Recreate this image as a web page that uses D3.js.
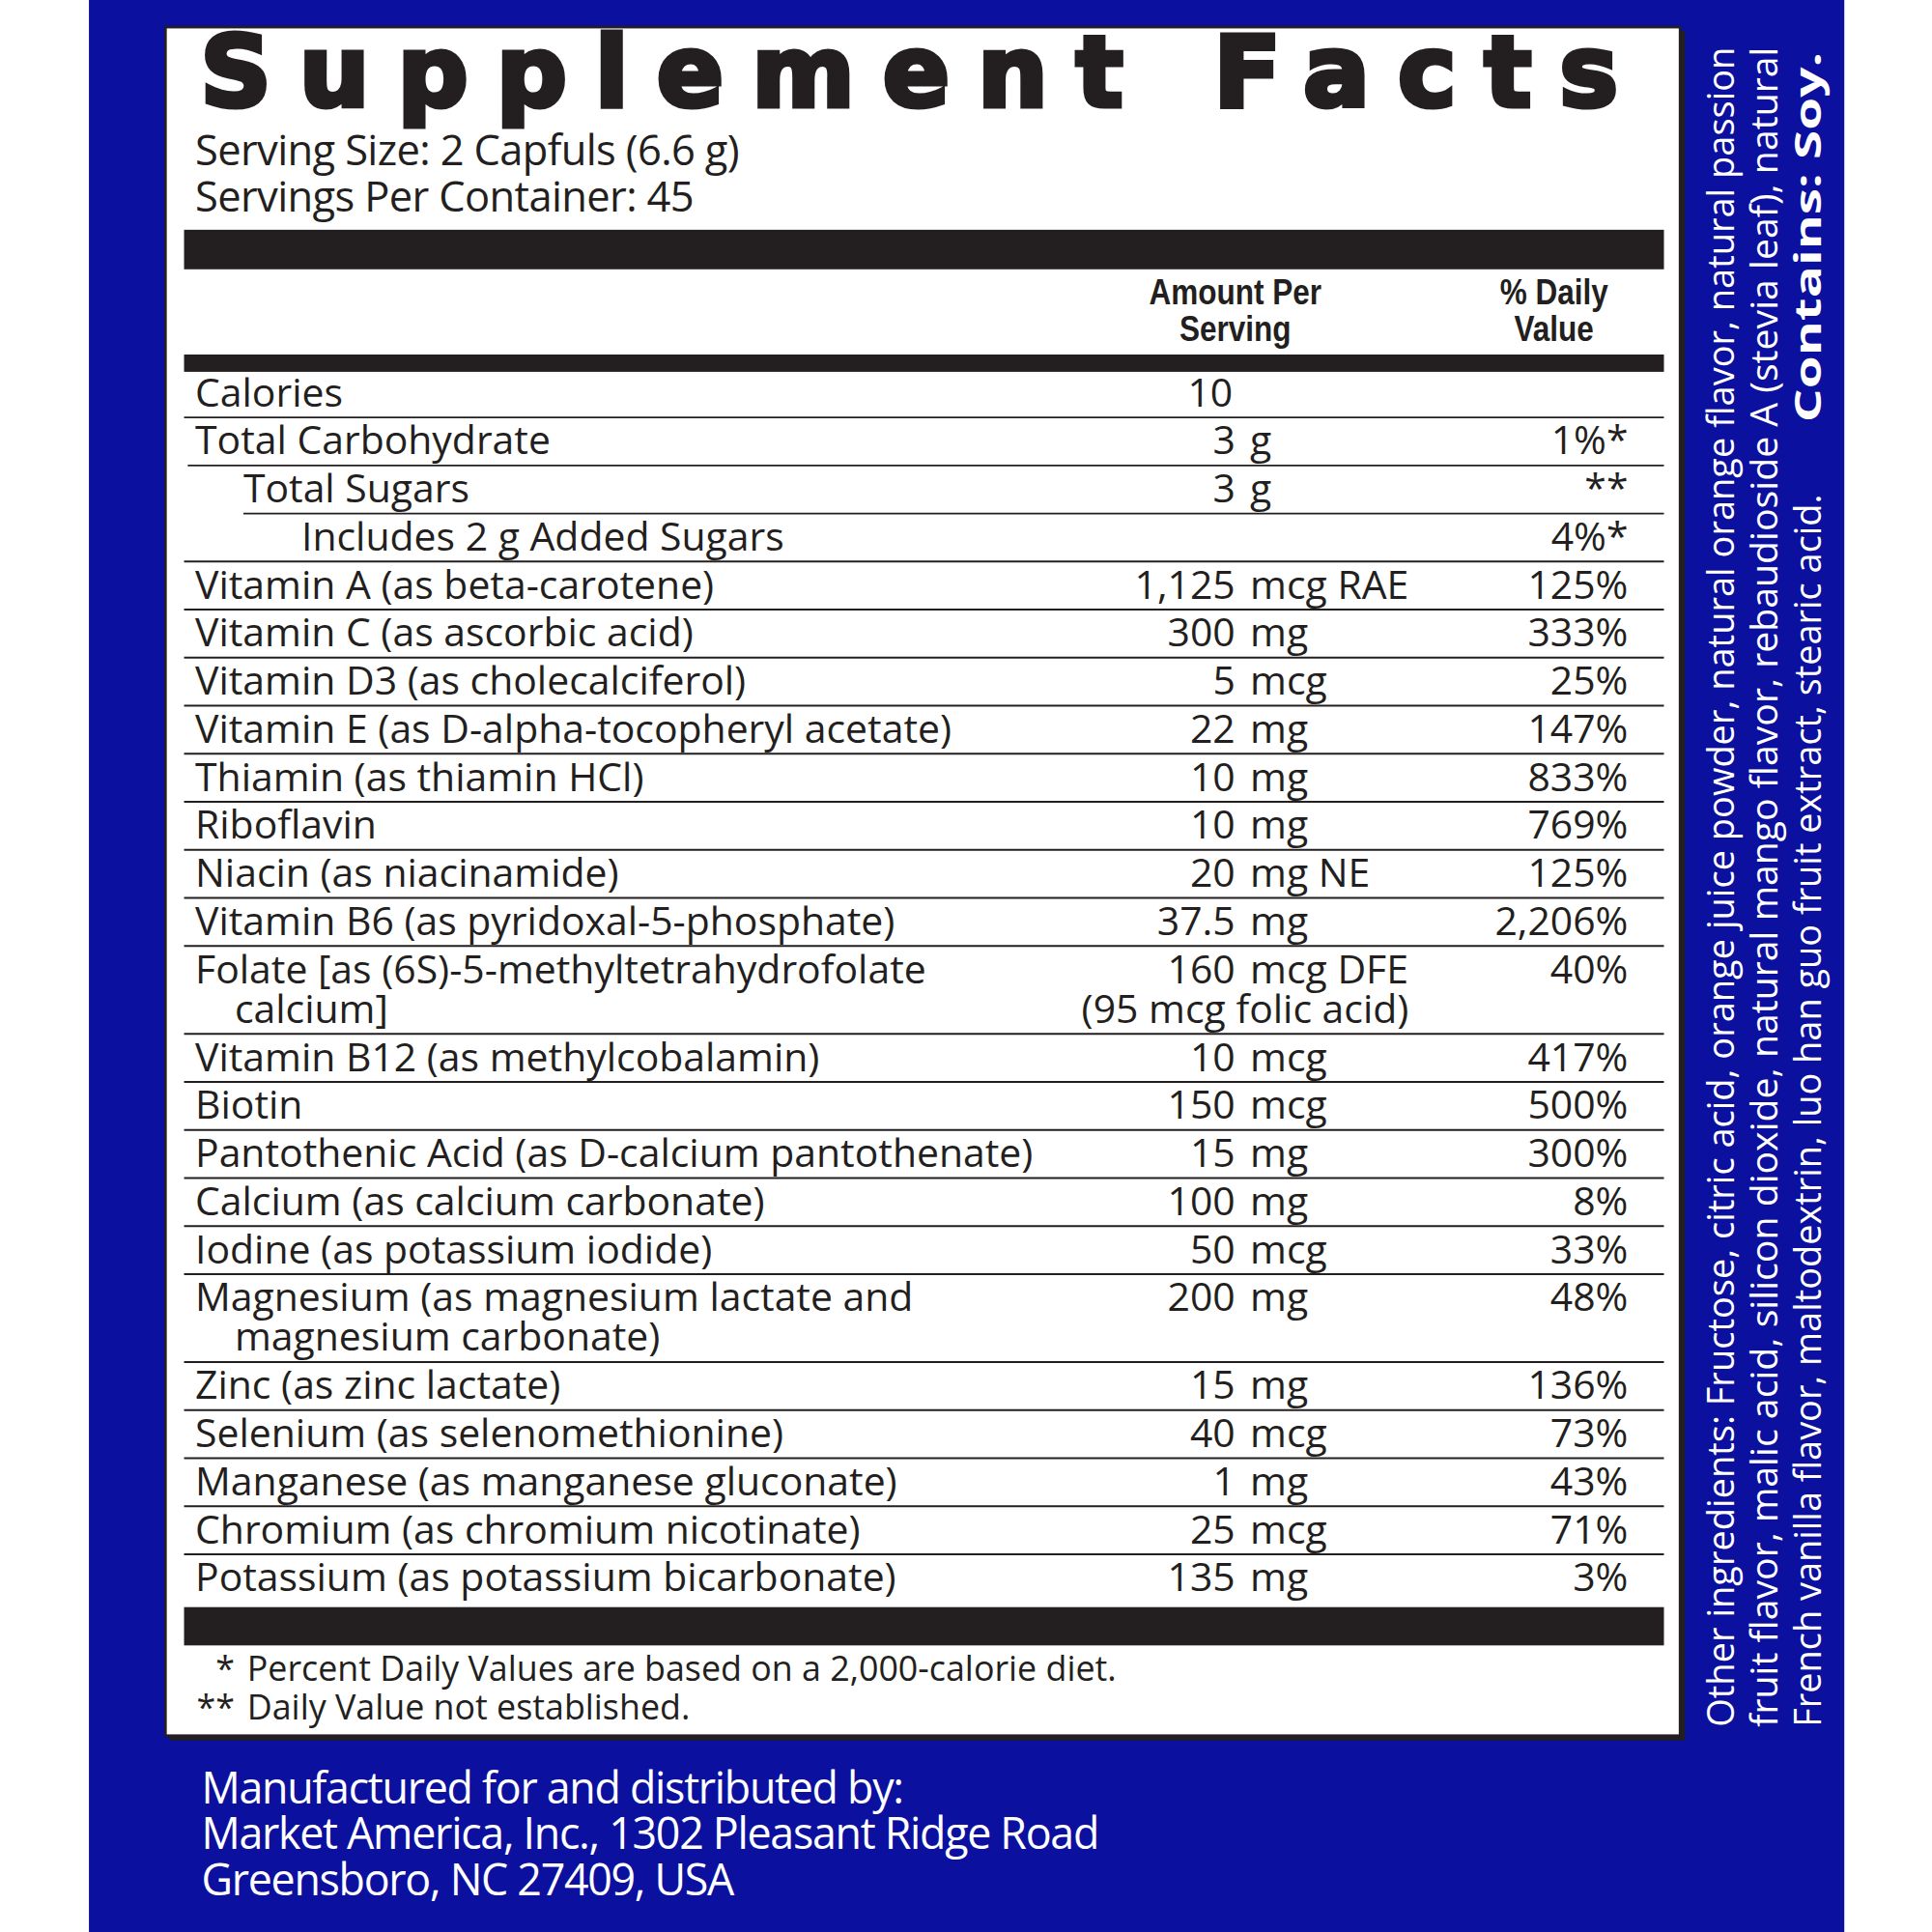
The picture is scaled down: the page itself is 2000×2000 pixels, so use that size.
<!DOCTYPE html><html><head><meta charset="utf-8">
<script src="https://cdn.jsdelivr.net/npm/d3@7"></script>
<style>body{margin:0;background:#fff}</style></head><body><svg id="c" width="2000" height="2000" viewBox="0 0 1564 1564"></svg>
<script>
const names=[["Calories"],["Total Carbohydrate"],["Total Sugars"],["Includes 2 g Added Sugars"],["Vitamin A (as beta-carotene)"],["Vitamin C (as ascorbic acid)"],["Vitamin D3 (as cholecalciferol)"],["Vitamin E (as D-alpha-tocopheryl acetate)"],["Thiamin (as thiamin HCl)"],["Riboflavin"],["Niacin (as niacinamide)"],["Vitamin B6 (as pyridoxal-5-phosphate)"],["Folate [as (6S)-5-methyltetrahydrofolate","calcium]"],["Vitamin B12 (as methylcobalamin)"],["Biotin"],["Pantothenic Acid (as D-calcium pantothenate)"],["Calcium (as calcium carbonate)"],["Iodine (as potassium iodide)"],["Magnesium (as magnesium lactate and","magnesium carbonate)"],["Zinc (as zinc lactate)"],["Selenium (as selenomethionine)"],["Manganese (as manganese gluconate)"],["Chromium (as chromium nicotinate)"],["Potassium (as potassium bicarbonate)"]];
const amounts=["10","3","3","","1,125","300","5","22","10","10","20","37.5","160","10","150","15","100","50","200","15","40","1","25","135"];
const units=["","g","g","","mcg RAE","mg","mcg","mg","mg","mg","mg NE","mg","mcg DFE","mcg","mcg","mg","mg","mcg","mg","mg","mcg","mg","mcg","mg"];
const dvs=["","1%*","**","4%*","125%","333%","25%","147%","833%","769%","125%","2,206%","40%","417%","500%","300%","8%","33%","48%","136%","73%","43%","71%","3%"];
const indents=[0,0,1,2,0,0,0,0,0,0,0,0,0,0,0,0,0,0,0,0,0,0,0,0];
const footnotes=[["*","Percent Daily Values are based on a 2,000-calorie diet."],["**","Daily Value not established."]];
const mfg=["Manufactured for and distributed by:","Market America, Inc., 1302 Pleasant Ridge Road","Greensboro, NC 27409, USA"];
const other=["Other ingredients: Fructose, citric acid, orange juice powder, natural orange flavor, natural passion","fruit flavor, malic acid, silicon dioxide, natural mango flavor, rebaudioside A (stevia leaf), natural","French vanilla flavor, maltodextrin, luo han guo fruit extract, stearic acid."];
const svg=d3.select("#c");
const F="'Open Sans', sans-serif";
const FS=32;
svg.append("rect").attr("x",72).attr("y",0).attr("width",1421).attr("height",1564).attr("fill","#0c109e");
svg.append("rect").attr("x",137).attr("y",25).attr("width",1227).attr("height",1384).attr("fill","#231f20");
svg.append("rect").attr("x",134).attr("y",22).attr("width",1226).attr("height",1383).attr("fill","#fff").attr("stroke","#231f20").attr("stroke-width",2);
svg.append("text").attr("x",162).attr("y",86).attr("font-family","'DejaVu Sans'").attr("font-weight","bold").attr("font-size",80).attr("textLength",1148).attr("lengthAdjust","spacing").attr("stroke","#231f20").attr("stroke-width",4).attr("fill","#231f20").text("Supplement Facts");
const g=svg.append("g").attr("fill","#231f20").attr("font-family",F);
g.append("text").attr("x",158).attr("y",134).attr("font-size",34).attr("letter-spacing",-0.5).text("Serving Size: 2 Capfuls (6.6 g)");
g.append("text").attr("x",158).attr("y",171).attr("font-size",34).attr("letter-spacing",-0.5).text("Servings Per Container: 45");
g.append("rect").attr("x",149).attr("y",186).attr("width",1198).attr("height",32);
g.append("rect").attr("x",149).attr("y",287).attr("width",1198).attr("height",14);
g.append("rect").attr("x",149).attr("y",1301).attr("width",1198).attr("height",31);
[["Amount Per","Serving",1000],["% Daily","Value",1258]].forEach(h=>{
 [h[0],h[1]].forEach((t,i)=>g.append("text").attr("x",h[2]).attr("y",246+i*30).attr("text-anchor","middle").attr("font-family","'Liberation Sans Narrow', 'Liberation Sans'").attr("font-stretch","condensed").attr("font-weight","bold").attr("font-size",29).attr("transform",`translate(${h[2]},0) scale(0.85,1) translate(${-h[2]},0)`).text(t));});
const y=d3.scaleLinear().domain([0,1]).range([0,38.9]);
const ix=[158,197,244];
let rowTop=299;
names.forEach((n,i)=>{
 const h=y(n.length===2?1.83:1);
 const base=rowTop+30;
 n.forEach((t,j)=>g.append("text").attr("x",j?190:ix[indents[i]]).attr("y",base+j*32).attr("font-size",FS).text(t));
 g.append("text").attr("x",i===0?998:1000).attr("y",base).attr("text-anchor","end").attr("font-size",FS).text(amounts[i]);
 if(units[i])g.append("text").attr("x",1012).attr("y",base).attr("font-size",FS).text(units[i]);
 if(i===12)g.append("text").attr("x",1008).attr("y",base+32).attr("text-anchor","middle").attr("font-size",FS).text("(95 mcg folic acid)");
 g.append("text").attr("x",1318).attr("y",base).attr("text-anchor","end").attr("font-size",FS).text(dvs[i]);
 rowTop+=h;
 if(i<names.length-1){const lx=i===2?197:(i===1?152:149);
 g.append("line").attr("x1",lx).attr("x2",1347).attr("y1",rowTop).attr("y2",rowTop).attr("stroke","#231f20").attr("stroke-width",1.5);}
});
footnotes.forEach((f,i)=>{g.append("text").attr("x",190).attr("y",1361+i*31).attr("text-anchor","end").attr("font-size",28).text(f[0]);
 g.append("text").attr("x",200).attr("y",1361+i*31).attr("font-size",28).text(f[1]);});
mfg.forEach((t,i)=>svg.append("text").attr("x",163).attr("y",1460+i*37).attr("fill","#fff").attr("font-family",F).attr("font-size",35).attr("letter-spacing",-1).text(t));
const v=svg.append("g").attr("fill","#fff").attr("font-family",F).attr("font-size",30);
other.forEach((t,i)=>{const x=1404+i*35;
 v.append("text").attr("transform",`translate(${x},1398) rotate(-90)`).attr("textLength",i===2?998:1360).attr("lengthAdjust","spacingAndGlyphs").text(t);});
v.append("text").attr("transform",`translate(1474,342) rotate(-90)`).attr("font-weight","bold").attr("textLength",300).attr("lengthAdjust","spacingAndGlyphs").text("Contains: Soy.");
</script></body></html>
